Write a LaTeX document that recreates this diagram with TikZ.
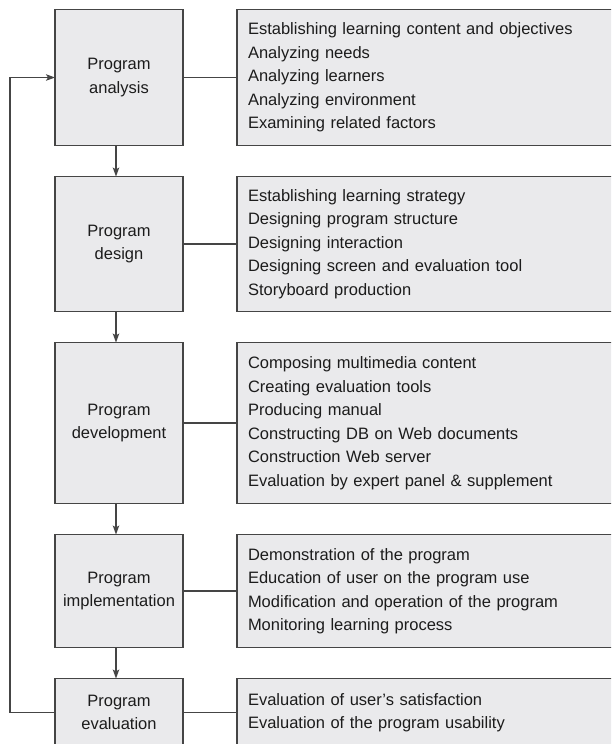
\documentclass[tikz,border=0pt]{standalone}
\usepackage{fontspec}
\setmainfont{Liberation Sans}
\usetikzlibrary{positioning, arrows.meta}

\definecolor{boxfill}{HTML}{EAEAEC}
\definecolor{boxline}{HTML}{454545}
\definecolor{ink}{HTML}{1C1C1C}

\tikzset{
  phase/.style={draw=boxline, fill=boxfill, line width=1.2pt, outer sep=0pt,
    minimum width=128pt, text width=120pt, align=center, inner sep=0pt, text=ink},
  tasks/.style={draw=boxline, fill=boxfill, line width=1.2pt, outer sep=0pt,
    minimum width=400pt, text width=378pt, inner xsep=11pt, inner ysep=0pt,
    align=left, text=ink},
  link/.style={draw=boxline, line width=1.2pt},
  flow/.style={link, -{Stealth[length=9pt, width=6.5pt, inset=2pt]}}
}

\begin{document}
\begin{tikzpicture}[x=1pt, y=1pt, font=\fontsize{16.5}{23.5}\selectfont]
\useasboundingbox (0,0) rectangle (611,-744);
\clip (0,0) rectangle (611,-744);

% phases down the left
\node[phase, minimum height=136pt] (ana) at (119,-77.5) {Program\\analysis};
\node[phase, minimum height=135pt, below=31pt of ana] (des) {Program\\design};
\node[phase, minimum height=161pt, below=31pt of des] (dev) {Program\\development};
\node[phase, minimum height=113pt, below=31pt of dev] (imp) {Program\\implementation};
\node[phase, minimum height=68pt, below=31pt of imp] (eva) {Program\\evaluation};

% what each phase covers
\node[tasks, minimum height=136pt, right=54pt of ana] (anatasks) {%
  Establishing learning content and objectives\\
  Analyzing needs\\
  Analyzing learners\\
  Analyzing environment\\
  Examining related factors};
\node[tasks, minimum height=135pt, right=54pt of des] (destasks) {%
  Establishing learning strategy\\
  Designing program structure\\
  Designing interaction\\
  Designing screen and evaluation tool\\
  Storyboard production};
\node[tasks, minimum height=161pt, right=54pt of dev] (devtasks) {%
  Composing multimedia content\\
  Creating evaluation tools\\
  Producing manual\\
  Constructing DB on Web documents\\
  Construction Web server\\
  Evaluation by expert panel \& supplement};
\node[tasks, minimum height=113pt, right=54pt of imp] (imptasks) {%
  Demonstration of the program\\
  Education of user on the program use\\
  Modification and operation of the program\\
  Monitoring learning process};
\node[tasks, minimum height=68pt, right=54pt of eva] (evatasks) {%
  Evaluation of user's satisfaction\\
  Evaluation of the program usability};

\draw[link] (ana) -- (anatasks);
\draw[link] (des) -- (destasks);
\draw[link] (dev) -- (devtasks);
\draw[link] (imp) -- (imptasks);
\draw[link] (eva) -- (evatasks);

\draw[flow] ([xshift=-3pt]ana.south) -- ([xshift=-3pt]des.north);
\draw[flow] ([xshift=-3pt]des.south) -- ([xshift=-3pt]dev.north);
\draw[flow] ([xshift=-3pt]dev.south) -- ([xshift=-3pt]imp.north);
\draw[flow] ([xshift=-3pt]imp.south) -- ([xshift=-3pt]eva.north);

% back to the start
\draw[flow] (eva.west) -- ++(-45,0) |- (ana.west);
\end{tikzpicture}
\end{document}
